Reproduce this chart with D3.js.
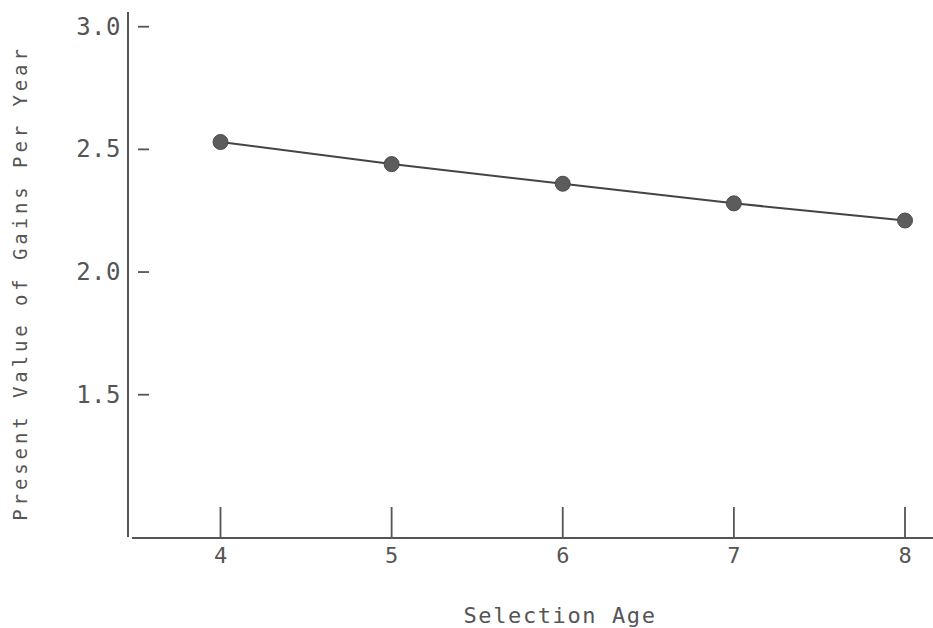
<!DOCTYPE html>
<html><head><meta charset="utf-8">
<script src="https://cdn.jsdelivr.net/npm/d3@7"></script>
<style>
html,body{margin:0;padding:0;background:#fff;}
svg{display:block;}
text{font-family:"DejaVu Sans Mono","Liberation Mono",monospace;fill:#555;}
</style></head>
<body>
<svg id="chart" width="933" height="628"></svg>
<script>
const selectionAge = [4, 5, 6, 7, 8];
const gainsPerYear = [2.53, 2.44, 2.36, 2.28, 2.21];
const yTickValues = [1.5, 2.0, 2.5, 3.0];
const xTickValues = [4, 5, 6, 7, 8];
const xTitle = "Selection Age";
const yTitle = "Present Value of Gains Per Year";

const svg = d3.select("#chart");
const x = d3.scaleLinear().domain([4, 8]).range([220.5, 905]);
const y = d3.scaleLinear().domain([0.92, 3.06]).range([537, 12]);
const axisColor = "#555";

svg.append("line").attr("x1", 128).attr("x2", 128).attr("y1", 12).attr("y2", 537)
  .attr("stroke", axisColor).attr("stroke-width", 2);
svg.append("line").attr("x1", 132).attr("x2", 933).attr("y1", 538).attr("y2", 538)
  .attr("stroke", axisColor).attr("stroke-width", 2);

const yt = svg.append("g");
yt.selectAll("line").data(yTickValues).join("line")
  .attr("x1", 138).attr("x2", 149)
  .attr("y1", d => y(d)).attr("y2", d => y(d))
  .attr("stroke", axisColor).attr("stroke-width", 1.8);
yt.selectAll("text").data(yTickValues).join("text")
  .attr("x", 121).attr("y", d => y(d))
  .attr("text-anchor", "end").attr("dominant-baseline", "central")
  .attr("font-size", 24).attr("letter-spacing", 0.5)
  .text(d => d3.format(".1f")(d));

const xt = svg.append("g");
xt.selectAll("line").data(xTickValues).join("line")
  .attr("x1", d => x(d)).attr("x2", d => x(d))
  .attr("y1", 507).attr("y2", 538)
  .attr("stroke", axisColor).attr("stroke-width", 1.8);
xt.selectAll("text").data(xTickValues).join("text")
  .attr("x", d => x(d)).attr("y", 555)
  .attr("text-anchor", "middle").attr("dominant-baseline", "central")
  .attr("font-size", 22)
  .text(d => d);

const data = selectionAge.map((a, i) => ({a, v: gainsPerYear[i]}));
svg.append("path").datum(data)
  .attr("fill", "none").attr("stroke", "#444").attr("stroke-width", 2)
  .attr("d", d3.line().x(d => x(d.a)).y(d => y(d.v)));
svg.selectAll("circle").data(data).join("circle")
  .attr("cx", d => x(d.a)).attr("cy", d => y(d.v)).attr("r", 7.5)
  .attr("fill", "#5c5c5c").attr("stroke", "#4a4a4a").attr("stroke-width", 1);

svg.append("text").attr("x", 560).attr("y", 615)
  .attr("text-anchor", "middle").attr("dominant-baseline", "central")
  .attr("font-size", 22).attr("letter-spacing", 1.6)
  .text(xTitle);
svg.append("text").attr("transform", "translate(20,283) rotate(-90)")
  .attr("text-anchor", "middle").attr("dominant-baseline", "central")
  .attr("font-size", 19).attr("letter-spacing", 3.9)
  .text(yTitle);
</script>
</body></html>
